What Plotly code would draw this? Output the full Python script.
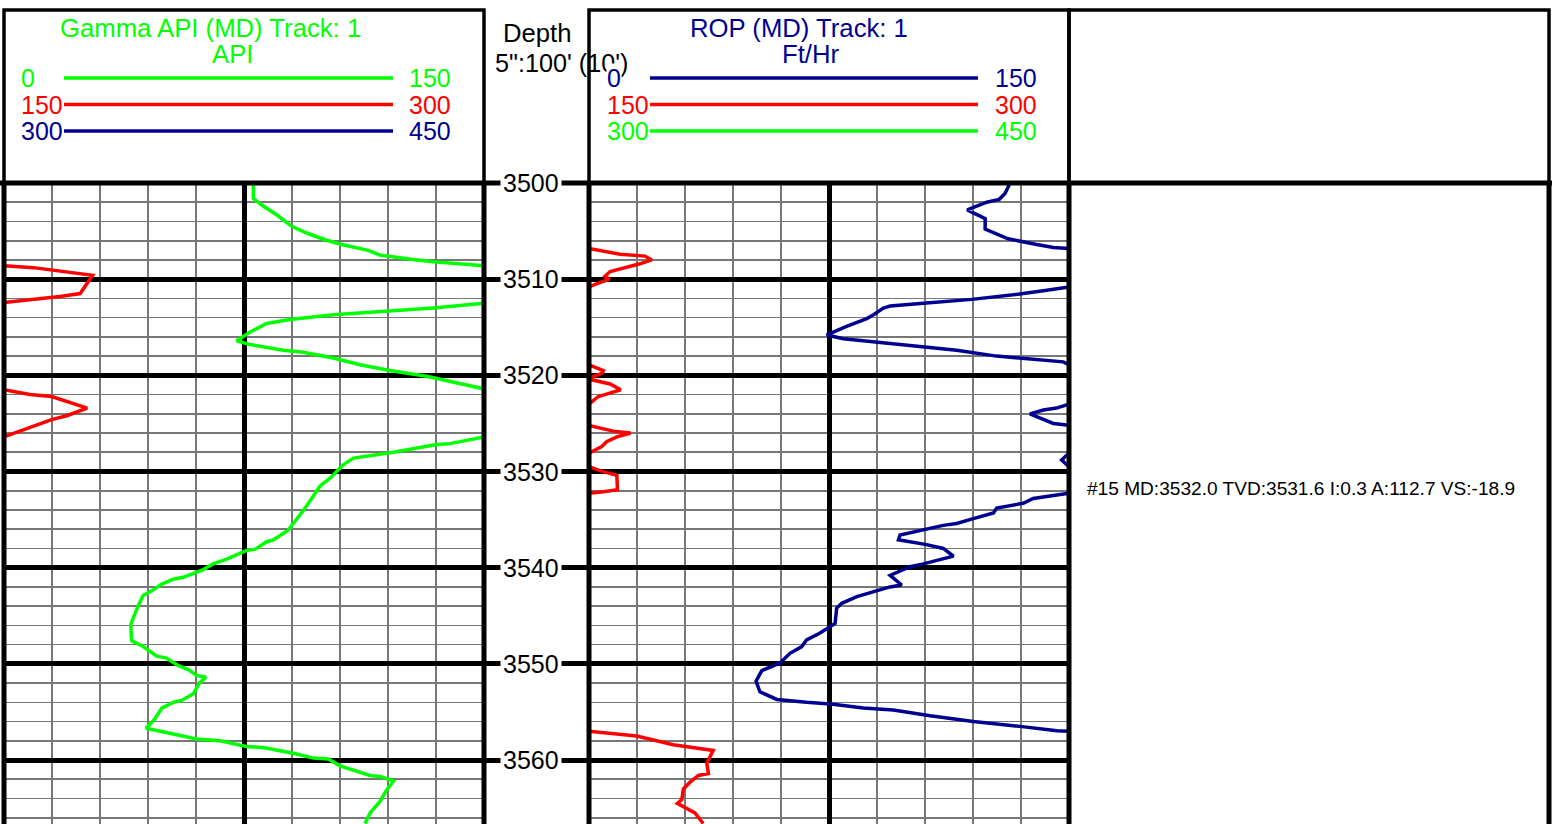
import plotly.graph_objects as go

# ---------------- data ----------------
GAMMA_MD = [3500.0, 3501.6, 3502.4, 3503.3, 3504.5, 3505.2, 3505.9, 3506.4, 3507.0, 3507.5, 3508.0, 3508.2, 3508.6,
            3508.8, 3509.6, 3511.5, 3511.8, 3512.0, 3512.4, 3512.5,
            3513.0, 3513.3, 3513.7, 3514.2, 3514.6, 3515.5, 3516.4, 3516.8, 3517.4, 3517.6, 3518.2, 3518.9,
            3519.5, 3520.1, 3520.8, 3521.5,
            3522.0, 3522.2, 3523.4, 3524.2, 3524.6, 3525.5, 3526.4,
            3527.1, 3527.2, 3528.0, 3528.6, 3529.3, 3530.7, 3531.5, 3532.6, 3533.8, 3535.2, 3536.1, 3537.1,
            3537.3, 3538.1, 3538.2, 3539.1, 3539.6, 3540.2, 3541.0, 3541.2, 3541.7, 3542.3, 3542.9, 3543.9,
            3544.9, 3545.9, 3547.6, 3548.2, 3549.2, 3549.4, 3550.1, 3550.6, 3551.2, 3551.4, 3552.0, 3553.1,
            3553.8, 3554.0, 3554.6, 3555.7, 3556.7, 3557.1, 3557.8, 3558.0, 3558.6, 3558.7, 3559.3, 3559.8,
            3559.9, 3560.6, 3561.6, 3561.7, 3562.2, 3563.1, 3564.3, 3565.5, 3566.6]
GAMMA_API = [77.9, 77.9, 81.0, 85.2, 89.9, 94.6, 100.3, 105.5, 113.8, 117.5, 129.0, 134.2, 150.0,
             159.2, 177.7, 173.8, 167.5, 162.3, 152.9, 150.0,
             134.2, 120.1, 102.9, 89.4, 82.1, 76.9, 72.7, 76.9, 87.3, 93.5, 102.9, 111.3,
             120.6, 132.1, 141.5, 150.0,
             158.1, 164.9, 176.0, 169.6, 164.9, 157.6, 150.0,
             139.4, 135.2, 121.7, 109.2, 106.0, 101.9, 98.8, 96.7, 94.1, 90.9, 88.8, 84.2,
             82.1, 78.4, 75.8, 69.6, 65.4, 62.3, 56.0, 52.9, 49.3, 46.7, 43.5, 42.0,
             40.9, 39.6, 39.9, 43.5, 47.7, 50.8, 54.0, 57.6, 60.2, 63.1, 61.0, 59.2,
             55.5, 52.9, 49.3, 47.2, 44.4, 49.8, 60.2, 67.5, 75.8, 81.0, 90.4, 96.7,
             101.4, 105.0, 114.4, 117.5, 121.7, 119.6, 117.5, 114.4, 112.8]

ROP_MD = [3500.0, 3501.1, 3501.7, 3502.0, 3502.8, 3503.7, 3504.8, 3505.2, 3505.8, 3506.4, 3506.7, 3506.8,
          3507.4, 3507.6, 3508.0, 3508.4, 3508.8, 3509.2, 3509.7, 3510.0, 3510.4, 3510.8,
          3511.2, 3511.5, 3512.1, 3512.2, 3512.5, 3512.8, 3513.0, 3513.7, 3514.1, 3514.9, 3515.8, 3516.2,
          3516.6, 3517.0, 3517.4, 3518.0, 3518.3, 3518.6, 3518.9,
          3519.5, 3519.8, 3520.3, 3520.35, 3520.9, 3521.5, 3521.9, 3522.2, 3523.0,
          3523.4, 3523.6, 3524.0, 3524.5, 3525.0, 3525.2,
          3525.8, 3526.0, 3526.4, 3526.9, 3527.4, 3528.1, 3528.8, 3529.5,
          3529.9, 3530.4, 3531.9, 3532.1, 3532.25,
          3532.8, 3533.3, 3533.8, 3534.3, 3534.9, 3535.4, 3535.6, 3536.0, 3536.6, 3537.1, 3537.6, 3538.0,
          3538.8, 3539.6, 3539.9, 3540.8, 3541.8, 3542.0, 3542.5, 3543.0, 3543.7, 3544.2, 3545.8, 3546.3,
          3546.8, 3547.5, 3548.2, 3548.9, 3549.9, 3550.7, 3551.8, 3552.9, 3553.7, 3554.0, 3554.2, 3554.6,
          3554.8, 3555.4, 3556.0, 3556.5, 3556.95, 3557.0,
          3557.5, 3558.4, 3559.0, 3560.3, 3561.4, 3561.6, 3562.3, 3563.0, 3564.1, 3564.5, 3565.5, 3566.6]
ROP_FTHR = [131.6, 130.0, 128.2, 124.3, 118.2, 123.8, 123.8, 126.9, 131.0, 139.9, 145.1, 150.0,
            159.7, 167.5, 169.6, 165.9, 160.7, 156.6, 155.0, 156.4, 152.9, 150.0,
            142.0, 135.7, 119.6, 114.9, 104.5, 94.1, 92.0, 88.9, 86.8, 80.5, 74.3, 79.5,
            90.9, 101.3, 114.9, 127.4, 137.8, 148.2, 150.0,
            154.5, 154.0, 150.0, 149.5, 156.6, 159.9, 156.0, 152.9, 150.0,
            146.1, 142.0, 137.8, 141.4, 145.1, 150.0,
            157.6, 163.0, 158.7, 155.5, 154.0, 150.0, 147.7, 150.0,
            153.4, 158.7, 158.9, 154.5, 150.0,
            138.8, 135.7, 127.4, 126.4, 120.1, 114.9, 110.7, 105.5, 97.2, 96.7, 105.5, 110.7,
            113.9, 104.5, 100.3, 94.1, 97.7, 94.1, 88.9, 83.7, 79.0, 77.4, 76.9, 74.3,
            72.2, 68.0, 66.5, 62.8, 59.7, 54.0, 52.2, 53.4, 58.7, 68.0, 76.3, 85.7,
            95.1, 106.6, 120.1, 134.7, 146.2, 150.0,
            164.9, 176.3, 188.8, 186.8, 187.3, 184.2, 181.6, 179.5, 179.0, 177.6, 183.1, 185.7]

DEPTH_TICKS = [3500, 3510, 3520, 3530, 3540, 3550, 3560]
TOP_MD = 3500.0
BOTTOM_MD = 3566.65

GAMMA_BANDS = [(0, 150), (150, 300), (300, 450)]
GAMMA_COLORS = ["#00ff00", "#ff0000", "#000090"]
ROP_BANDS = [(0, 150), (150, 300), (300, 450)]
ROP_COLORS = ["#000090", "#ff0000", "#00ff00"]

SURVEY_NO = 15
SURVEY_MD = 3532.0
SURVEY_TVD = 3531.6
SURVEY_INC = 0.3
SURVEY_AZI = 112.7
SURVEY_VS = -18.9

# ---------------- geometry (pixels) ----------------
W, H = 1558, 824
T1 = (4, 484)
DC = (484, 589)
T2 = (589, 1069)
T3 = (1069, 1549)
HEAD_TOP = 10
DATA_TOP = 183
FONT = "Liberation Sans, Arial, sans-serif"
GRAY = "#777777"
NAVY = "#000090"


def fx(px):
    return px / W


def fy(py):
    return 1 - py / H


ydom = [0, fy(DATA_TOP)]

fig = go.Figure()

# curves, wrapped through overlaid x-axes (lines are clipped by each subplot)
gamma_axes = ["x", "x5", "x6"]
for ax, col in zip(gamma_axes, GAMMA_COLORS):
    fig.add_trace(go.Scatter(x=GAMMA_API, y=GAMMA_MD, xaxis=ax, yaxis="y", mode="lines",
                             line=dict(color=col, width=3.5), showlegend=False, hoverinfo="skip"))
rop_axes = ["x3", "x7", "x8"]
for ax, col in zip(rop_axes, ROP_COLORS):
    fig.add_trace(go.Scatter(x=ROP_FTHR, y=ROP_MD, xaxis=ax, yaxis="y3", mode="lines",
                             line=dict(color=col, width=3.5), showlegend=False, hoverinfo="skip"))
# placeholders for depth column and text track
fig.add_trace(go.Scatter(x=[None], y=[None], xaxis="x2", yaxis="y2", showlegend=False))
fig.add_trace(go.Scatter(x=[None], y=[None], xaxis="x4", yaxis="y4", showlegend=False))

xgrid = dict(showgrid=True, gridcolor="black", gridwidth=5, tick0=0, dtick=75,
             minor=dict(tick0=0, dtick=15, showgrid=True, gridcolor=GRAY, gridwidth=1.6),
             showticklabels=False, ticks="", zeroline=False, showline=False, fixedrange=True)
ygrid = dict(domain=ydom, range=[BOTTOM_MD, TOP_MD], showgrid=True, gridcolor="black", gridwidth=5,
             tick0=TOP_MD, dtick=10,
             minor=dict(tick0=TOP_MD, dtick=2, showgrid=True, gridcolor=GRAY, gridwidth=1.6),
             showticklabels=False, ticks="", zeroline=False, showline=False, fixedrange=True)
hidden = dict(showgrid=False, showticklabels=False, ticks="", zeroline=False, showline=False, visible=False)

fig.update_layout(
    xaxis=dict(domain=[fx(T1[0]), fx(T1[1])], range=list(GAMMA_BANDS[0]), anchor="y", **xgrid),
    yaxis=dict(anchor="x", **ygrid),
    xaxis2=dict(domain=[fx(DC[0]), fx(DC[1])], range=[0, 1], anchor="y2", **hidden),
    yaxis2=dict(domain=ydom, range=[BOTTOM_MD, TOP_MD], anchor="x2", showgrid=True, gridcolor="black",
                gridwidth=5, tick0=TOP_MD, dtick=10, showticklabels=False, ticks="", zeroline=False),
    xaxis3=dict(domain=[fx(T2[0]), fx(T2[1])], range=list(ROP_BANDS[0]), anchor="y3", **xgrid),
    yaxis3=dict(anchor="x3", **ygrid),
    xaxis4=dict(domain=[fx(T3[0]), fx(T3[1])], range=[0, 1], anchor="y4", **hidden),
    yaxis4=dict(domain=ydom, range=[BOTTOM_MD, TOP_MD], anchor="x4", **hidden),
    xaxis5=dict(overlaying="x", range=list(GAMMA_BANDS[1]), anchor="y", **hidden),
    xaxis6=dict(overlaying="x", range=list(GAMMA_BANDS[2]), anchor="y", **hidden),
    xaxis7=dict(overlaying="x3", range=list(ROP_BANDS[1]), anchor="y3", **hidden),
    xaxis8=dict(overlaying="x3", range=list(ROP_BANDS[2]), anchor="y3", **hidden),
)

shapes = []
# header boxes
for (a, b) in (T1, T2, T3):
    shapes.append(dict(type="rect", xref="paper", yref="paper", x0=fx(a), x1=fx(b),
                       y0=fy(DATA_TOP), y1=fy(HEAD_TOP), line=dict(color="black", width=3.5)))
# data-area borders
for px in (T1[0], T1[1], T2[0], T2[1], T3[1]):
    shapes.append(dict(type="line", xref="paper", yref="paper", x0=fx(px), x1=fx(px),
                       y0=fy(DATA_TOP), y1=0, line=dict(color="black", width=5)))
shapes.append(dict(type="line", xref="paper", yref="paper", x0=0, x1=fx(1552),
                   y0=fy(DATA_TOP), y1=fy(DATA_TOP), line=dict(color="black", width=5)))

annotations = []


def txt(text, px, py, color="black", size=25, xanchor="center", bg=None, pad=1):
    d = dict(text=text, x=fx(px), y=fy(py), xref="paper", yref="paper", showarrow=False,
             xanchor=xanchor, yanchor="middle", font=dict(family=FONT, size=size, color=color),
             borderpad=pad)
    if bg:
        d["bgcolor"] = bg
    annotations.append(d)


# headers
txt("Gamma API (MD) Track: 1", 210, 28, GAMMA_COLORS[0], size=25.7)
txt("API", 233, 54, GAMMA_COLORS[0], size=25.7)
txt("ROP (MD) Track: 1", 799, 28, NAVY, size=25.7)
txt("Ft/Hr", 811, 54, NAVY, size=25.7)
txt("Depth", 537, 33, size=25.7)
txt("5\":100' (10')", 493, 63, xanchor="left", size=25.2)

# scale legends
LEG_Y = [78, 104.5, 131]
for (t0, lx0, lx1, lab_l, lab_r, bands, cols) in (
        (T1[0], 64, 393, 16, 403, GAMMA_BANDS, GAMMA_COLORS),
        (T2[0], 650, 978, 17, 404, ROP_BANDS, ROP_COLORS)):
    for (lo, hi), col, ly in zip(bands, cols, LEG_Y):
        shapes.append(dict(type="line", xref="paper", yref="paper", x0=fx(lx0), x1=fx(lx1),
                           y0=fy(ly), y1=fy(ly), line=dict(color=col, width=3.5)))
        txt(str(lo), t0 + lab_l, ly, col, xanchor="left", bg="white", pad=0)
        txt(str(hi), t0 + lab_r, ly, col, xanchor="left")

# depth labels
for d in DEPTH_TICKS:
    annotations.append(dict(text=str(d), x=(531 - DC[0]) / (DC[1] - DC[0]), y=d, xref="x2", yref="y2",
                            showarrow=False, xanchor="center", yanchor="middle", bgcolor="white",
                            borderpad=2, font=dict(family=FONT, size=25, color="black")))

# survey annotation
survey_text = (f"#{SURVEY_NO} MD:{SURVEY_MD:.1f} TVD:{SURVEY_TVD:.1f} I:{SURVEY_INC:.1f} "
               f"A:{SURVEY_AZI:.1f} VS:{SURVEY_VS:.1f}")
annotations.append(dict(text=survey_text, x=fx(1085), y=SURVEY_MD - 0.2, xref="paper", yref="y4",
                        showarrow=False, xanchor="left", yanchor="middle",
                        font=dict(family=FONT, size=19.1, color="black")))

fig.update_layout(
    width=W, height=H, autosize=False,
    margin=dict(l=0, r=0, t=0, b=0, pad=0),
    paper_bgcolor="white", plot_bgcolor="white",
    showlegend=False,
    shapes=shapes, annotations=annotations,
    font=dict(family=FONT),
)

fig.write_html("out.html", config={"displayModeBar": False, "staticPlot": True},
               post_script="document.body.style.margin='0';document.body.style.overflow='hidden';")
